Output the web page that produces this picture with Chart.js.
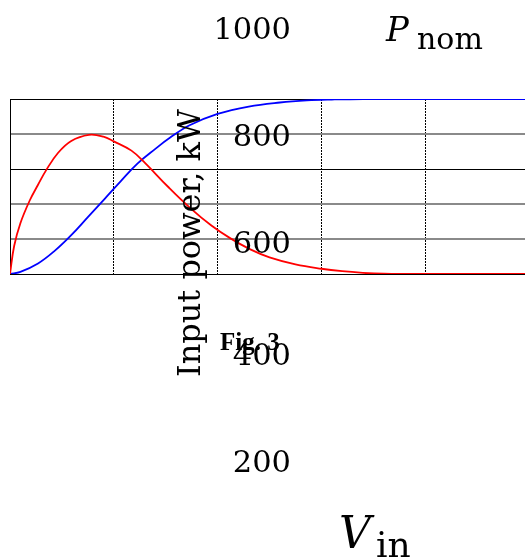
<!DOCTYPE html>
<html>
<head>
<meta charset="utf-8">
<script src="https://cdn.jsdelivr.net/npm/chart.js@4/dist/chart.umd.min.js"></script>
<style>
  html, body { margin: 0; padding: 0; background: #fff; overflow: hidden; }
  body { width: 525px; height: 558px; position: relative; }
  #chart { position: absolute; left: 0; top: 0; }
  .lbl { position: absolute; line-height: 1; white-space: nowrap; color: #000; }
</style>
</head>
<body>
<canvas id="chart" width="540" height="558"></canvas>
<script>
// curve data, x in grid units (0..5), y as fraction of full scale
const redX  = [0, 0.04, 0.1, 0.19, 0.27, 0.35, 0.46, 0.59, 0.76, 0.9, 1.0, 1.17, 1.3, 1.52, 1.74, 1.94, 2.12, 2.31, 2.5, 2.75, 3.0, 3.2, 3.4, 3.6, 4.0, 5.0];
const redY  = [0, 0.16, 0.29, 0.42, 0.51, 0.595, 0.69, 0.76, 0.795, 0.785, 0.758, 0.705, 0.635, 0.5, 0.375, 0.277, 0.205, 0.142, 0.095, 0.055, 0.03, 0.016, 0.007, 0.002, 0, 0];
const blueX = [0, 0.1, 0.27, 0.43, 0.59, 0.75, 0.91, 1.07, 1.23, 1.4, 1.54, 1.73, 2.0, 2.3, 2.6, 2.86, 3.1, 3.4, 5.0];
const blueY = [0, 0.012, 0.06, 0.132, 0.222, 0.325, 0.428, 0.532, 0.632, 0.715, 0.778, 0.85, 0.915, 0.957, 0.98, 0.992, 0.997, 1.0, 1.0];

// texts of the figure
const valueLabels = ['1000', '800', '600', '400', '200'];
const yTitle = 'Input power, kW';
const figCaption = 'Fig. 3';
const pSymbol = 'P';
const pSub = 'nom';
const vSymbol = 'V';
const vSub = 'in';

const valueBaselines = [40, 147, 254, 366, 473];

function toPoints(xs, ys) {
    return xs.map((x, i) => ({x: x, y: ys[i]}));
}

// baseline offset for line-height 1
const ascent = {
    'DejaVu Serif': 0.846,
    'Liberation Serif': 0.8375
};

function addText(text, o) {
    const el = document.createElement('div');
    el.className = 'lbl';
    el.textContent = text;
    el.style.fontFamily = '"' + o.family + '"';
    el.style.fontSize = o.size + 'px';
    el.style.fontStyle = o.italic ? 'italic' : 'normal';
    el.style.fontWeight = o.bold ? 'bold' : 'normal';
    el.style.top = (o.baseline - ascent[o.family] * o.size) + 'px';
    if (o.right !== undefined) {
        el.style.left = (o.right - 200) + 'px';
        el.style.width = '200px';
        el.style.textAlign = 'right';
    } else {
        el.style.left = o.left + 'px';
    }
    document.body.appendChild(el);
    return el;
}

function isDarkLine(c) {
    const v = Math.round((c.tick ? c.tick.value : 0) * 10) / 10;
    return v === 0 || v === 0.6 || v === 1;
}

const ctx = document.getElementById('chart').getContext('2d');

new Chart(ctx, {
    type: 'line',
    data: {
        datasets: [{
            label: 'red',
            data: toPoints(redX, redY),
            borderColor: '#ff0000',
            borderWidth: 1.8,
            pointRadius: 0,
            tension: 0.4,
            fill: false
        }, {
            label: 'blue',
            data: toPoints(blueX, blueY),
            borderColor: '#0000ff',
            borderWidth: 1.8,
            pointRadius: 0,
            tension: 0.4,
            fill: false
        }]
    },
    options: {
        responsive: false,
        animation: false,
        devicePixelRatio: 1,
        layout: {
            padding: {left: 10, top: 99, right: 11, bottom: 284}
        },
        plugins: {
            legend: {display: false},
            tooltip: {enabled: false}
        },
        scales: {
            x: {
                type: 'linear',
                min: 0,
                max: 5,
                ticks: {display: false, stepSize: 1},
                grid: {drawTicks: false, color: '#000', lineWidth: 1},
                border: {
                    color: '#000',
                    dash: c => (c.tick && c.tick.value > 0) ? [2, 1] : []
                }
            },
            y: {
                type: 'linear',
                min: 0,
                max: 1,
                ticks: {display: false, stepSize: 0.2},
                grid: {
                    drawTicks: false,
                    lineWidth: c => isDarkLine(c) ? 1 : 2,
                    color: c => isDarkLine(c) ? '#000' : '#8a8a8a'
                },
                border: {color: '#000'}
            }
        }
    }
});

valueLabels.forEach((t, i) => {
    addText(t, {family: 'DejaVu Serif', size: 30.5, right: 291, baseline: valueBaselines[i]});
});

const title = addText(yTitle, {family: 'DejaVu Serif', size: 32, left: 173, baseline: 0});
title.style.top = '377px';
title.style.transformOrigin = '0 0';
title.style.transform = 'rotate(-90deg)';

addText(figCaption, {family: 'Liberation Serif', size: 25, bold: true, left: 220, baseline: 350});

addText(pSymbol, {family: 'DejaVu Serif', size: 34, italic: true, left: 386, baseline: 41});
addText(pSub, {family: 'DejaVu Serif', size: 30, left: 417, baseline: 49});

addText(vSymbol, {family: 'DejaVu Serif', size: 44, italic: true, left: 339, baseline: 548});
addText(vSub, {family: 'DejaVu Serif', size: 36, left: 376, baseline: 557});
</script>
</body>
</html>
